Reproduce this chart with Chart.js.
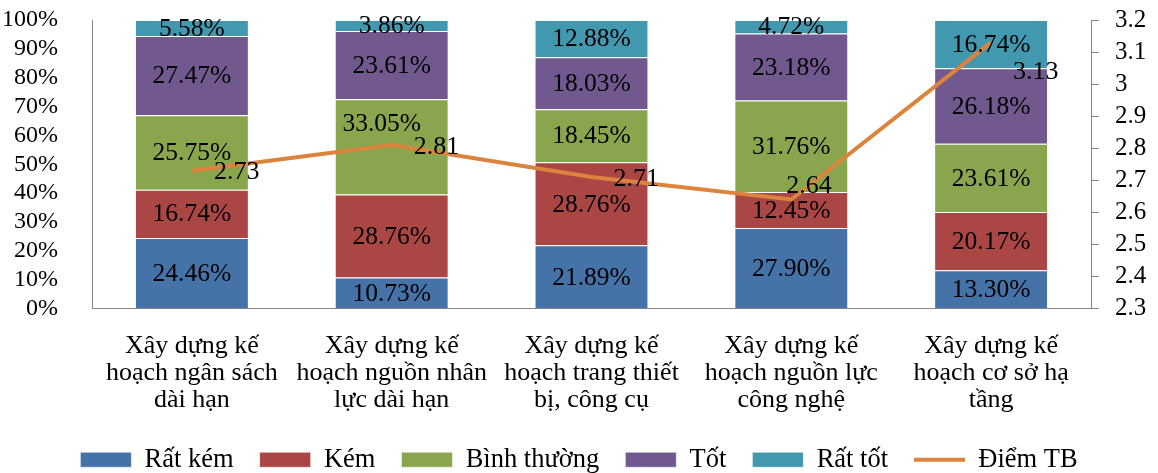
<!DOCTYPE html>
<html>
<head>
<meta charset="utf-8">
<script src="https://cdn.jsdelivr.net/npm/chart.js@4.4.1/dist/chart.umd.min.js"></script>
<style>
  html, body { margin: 0; background: #fff; }
</style>
</head>
<body>
<canvas id="chart" width="1158" height="473"></canvas>
<script>
const categories = [
  ['Xây dựng kế', 'hoạch ngân sách', 'dài hạn'],
  ['Xây dựng kế', 'hoạch nguồn nhân', 'lực dài hạn'],
  ['Xây dựng kế', 'hoạch trang thiết', 'bị, công cụ'],
  ['Xây dựng kế', 'hoạch nguồn lực', 'công nghệ'],
  ['Xây dựng kế', 'hoạch cơ sở hạ', 'tầng']
];
const ratKem = [24.46, 10.73, 21.89, 27.90, 13.30];
const kem = [16.74, 28.76, 28.76, 12.45, 20.17];
const binhThuong = [25.75, 33.05, 18.45, 31.76, 23.61];
const tot = [27.47, 23.61, 18.03, 23.18, 26.18];
const ratTot = [5.58, 3.86, 12.88, 4.72, 16.74];
const diemTB = [2.73, 2.81, 2.71, 2.64, 3.13];
const percentTicks = [0, 10, 20, 30, 40, 50, 60, 70, 80, 90, 100];
const scoreTicks = [2.3, 2.4, 2.5, 2.6, 2.7, 2.8, 2.9, 3.0, 3.1, 3.2];

const FONT = '"Liberation Serif", "Times New Roman", serif';
Chart.defaults.font.family = FONT;
Chart.defaults.font.size = 24;
Chart.defaults.color = '#000';

function bar(label, data, color) {
  return {
    type: 'bar',
    label: label,
    data: data,
    backgroundColor: color,
    borderColor: 'rgba(255,255,255,0.55)',
    borderWidth: 1,
    pointStyle: 'rect',
    yAxisID: 'y',
    order: 1,
    barPercentage: 0.57,
    categoryPercentage: 1
  };
}

// labels moved by hand in the original to keep them apart ("dataset:index")
const nudge = {
  '2:1': [-10, -24],
  '5:3': [-27, -15],
  '5:4': [0, 28]
};

const valueLabels = {
  id: 'valueLabels',
  afterDatasetsDraw(chart) {
    const ctx = chart.ctx;
    ctx.save();
    ctx.fillStyle = '#000';
    ctx.textBaseline = 'middle';
    chart.data.datasets.forEach((ds, i) => {
      chart.getDatasetMeta(i).data.forEach((el, j) => {
        const v = ds.data[j];
        const [dx, dy] = nudge[i + ':' + j] || [0, 0];
        if (ds.type === 'bar') {
          ctx.font = '25.5px ' + FONT;
          ctx.textAlign = 'center';
          ctx.fillText(v.toFixed(2) + '%', el.x + dx, (el.y + el.base) / 2 + 1 + dy);
        } else {
          ctx.font = '26px ' + FONT;
          ctx.textAlign = 'left';
          ctx.fillText(v.toFixed(2), el.x + 22 + dx, el.y + 2 + dy);
        }
      });
    });
    ctx.restore();
  }
};

// tick padding also gets added above the axis, drop it
function fixWidth(w) {
  return function (scale) {
    scale.width = w;
    scale.paddingTop = 0;
    scale.paddingBottom = 0;
  };
}

new Chart(document.getElementById('chart'), {
  data: {
    labels: categories,
    datasets: [
      bar('Rất kém', ratKem, '#4572A7'),
      bar('Kém', kem, '#AA4643'),
      bar('Bình thường', binhThuong, '#89A54E'),
      bar('Tốt', tot, '#71588F'),
      bar('Rất tốt', ratTot, '#4198AF'),
      {
        type: 'line',
        label: 'Điểm TB',
        data: diemTB,
        borderColor: '#DB843D',
        backgroundColor: '#DB843D',
        borderWidth: 4,
        pointRadius: 0,
        pointStyle: 'line',
        tension: 0,
        yAxisID: 'y2',
        order: 0
      }
    ]
  },
  options: {
    responsive: false,
    animation: false,
    layout: { padding: { top: 20, left: 0, right: 0, bottom: -10 } },
    plugins: {
      tooltip: { enabled: false },
      legend: {
        position: 'bottom',
        labels: {
          usePointStyle: true,
          pointStyleWidth: 51,
          boxHeight: 15,
          padding: 26,
          sort: (a, b) => a.datasetIndex - b.datasetIndex,
          font: { size: 26.5, family: FONT }
        }
      }
    },
    scales: {
      x: {
        stacked: true,
        grid: { display: false },
        border: { display: true, color: '#868686', width: 1 },
        ticks: { padding: 16, maxRotation: 0, autoSkip: false, font: { size: 26, lineHeight: 27 / 26 } },
        afterFit(scale) { scale.height = 112; }
      },
      y: {
        position: 'left',
        stacked: true,
        min: 0,
        max: 100,
        afterBuildTicks(scale) { scale.ticks = percentTicks.map(v => ({ value: v })); },
        grid: { display: false },
        border: { display: true, color: '#868686', width: 1 },
        ticks: { padding: 26, autoSkip: false, callback: v => v + '%' },
        afterFit: fixWidth(92)
      },
      y2: {
        position: 'right',
        min: 2.3,
        max: 3.2,
        afterBuildTicks(scale) { scale.ticks = scoreTicks.map(v => ({ value: v })); },
        grid: { display: true, drawOnChartArea: false, drawTicks: true, tickLength: 8, color: '#868686' },
        border: { display: true, color: '#868686', width: 1 },
        ticks: { padding: 16, autoSkip: false, font: { size: 25 }, callback: v => String(Number(v.toFixed(1))) },
        afterFit: fixWidth(67)
      }
    }
  },
  plugins: [valueLabels]
});
</script>
</body>
</html>
